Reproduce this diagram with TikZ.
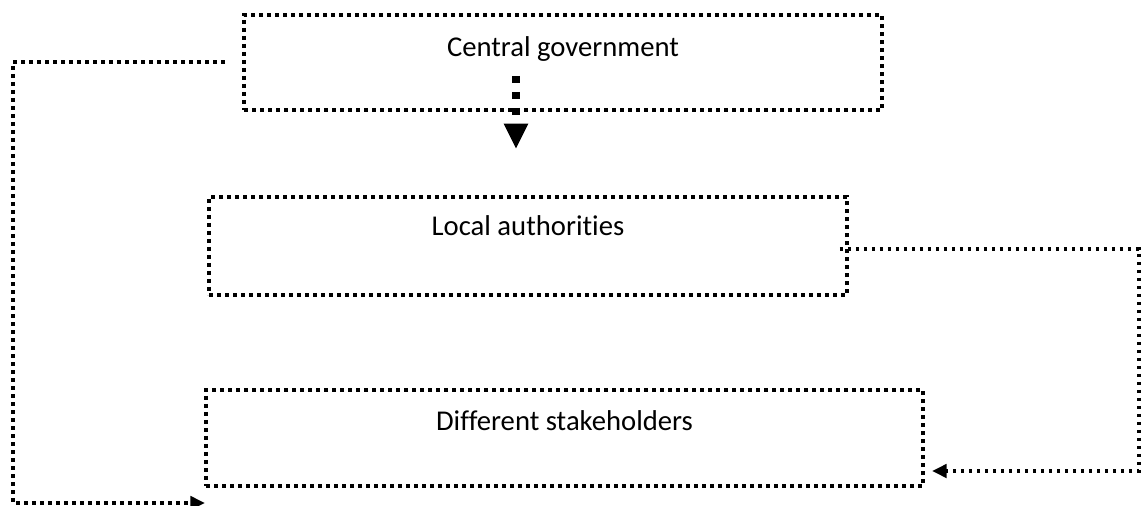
\documentclass[tikz,border=0pt]{standalone}
\usepackage{fontspec}
\setmainfont{Carlito}[Ligatures={NoCommon}]
\usetikzlibrary{arrows.meta,calc}
\tikzset{
  dotline/.style={line width=2.7pt, dash pattern=on 2.7pt off 3.3pt},
  boxnode/.style={dotline, draw, rectangle, inner sep=0pt, align=center,
    font=\fontsize{21.5pt}{24pt}\selectfont},
  conn/.style={dotline, -{Triangle[length=11pt,width=10pt]}},
  bigconn/.style={line width=5.5pt, dash pattern=on 5.5pt off 6.5pt, -{Triangle[length=19pt,width=17pt]}}
}
\begin{document}
\begin{tikzpicture}[x=0.75pt,y=-0.75pt]
\useasboundingbox (0,0) rectangle (1141,506);
\node[boxnode, minimum width=478.5pt, text height=31.5pt, text depth=39.75pt] (cg) at (563,62.5) {Central government};
\node[boxnode, minimum width=478.5pt, text height=28.5pt, text depth=45pt] (la) at (528,246) {Local authorities};
\node[boxnode, minimum width=537.75pt, text height=30pt, text depth=42pt] (ds) at (564.5,438) {Different stakeholders};
% central -> local
\coordinate (a1) at (516,76);
\coordinate (a2) at (516,149);
\draw[bigconn] (a1) -- (a2);
% local -> stakeholders
\coordinate (l1) at ($(la.east)+(-9,3)$);
\coordinate (r1) at (1139,249);
\coordinate (r2) at (932,471);
\draw[conn] (l1) -- (r1) |- (r2);
% central -> stakeholders
\coordinate (c1) at (225,62);
\coordinate (c2) at (13,62);
\coordinate (c3) at (205,503);
\draw[conn] (c1) -- (c2) |- (c3);
\end{tikzpicture}
\end{document}
